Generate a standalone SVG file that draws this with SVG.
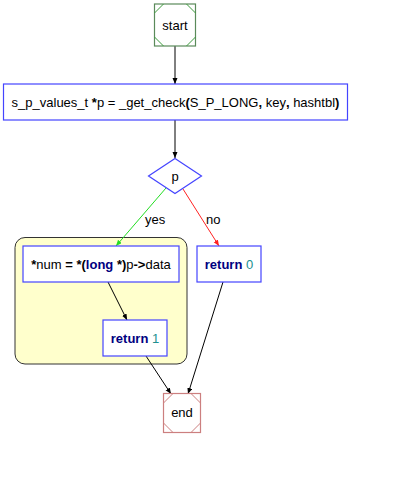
<svg xmlns="http://www.w3.org/2000/svg" width="404" height="488" viewBox="0 0 404 488">
<style>
text{font-family:"Liberation Sans",Arial,sans-serif;font-size:13px;fill:#000;}
.c{text-anchor:middle;}
.b{font-weight:bold;}
.kw{font-weight:bold;fill:#000080;}
.num{fill:#209090;}
.box{fill:#fff;stroke:#4444ff;stroke-width:1.2;}
.edge{fill:none;stroke:#000;stroke-width:1;}
</style>
<defs>
<marker id="ah" markerUnits="userSpaceOnUse" markerWidth="7" markerHeight="6" refX="6" refY="2.5" orient="auto"><path d="M0,0 L6,2.5 L0,5 z" fill="#000"/></marker>
<marker id="ahg" markerUnits="userSpaceOnUse" markerWidth="7" markerHeight="6" refX="6" refY="2.5" orient="auto"><path d="M0,0 L6,2.5 L0,5 z" fill="#22dd22"/></marker>
<marker id="ahr" markerUnits="userSpaceOnUse" markerWidth="7" markerHeight="6" refX="6" refY="2.5" orient="auto"><path d="M0,0 L6,2.5 L0,5 z" fill="#ff2222"/></marker>
</defs>
<rect width="404" height="488" fill="#fff"/>
<g id="cluster">
<rect x="15" y="237.5" width="172" height="126.5" rx="10" ry="10" fill="#ffffcc" stroke="#333" stroke-width="1"/>
</g>
<g id="connectors">
<line class="edge" x1="175" y1="46" x2="175" y2="84" marker-end="url(#ah)"/>
<line class="edge" x1="175" y1="120" x2="175" y2="158" marker-end="url(#ah)"/>
<line class="edge" x1="166" y1="188" x2="116" y2="246" stroke="#22dd22" style="stroke:#22dd22" marker-end="url(#ahg)"/>
<text x="145" y="224">yes</text>
<line class="edge" x1="183" y1="189" x2="219" y2="246" style="stroke:#ff2222" marker-end="url(#ahr)"/>
<text x="206" y="224">no</text>
<line class="edge" x1="108" y1="282" x2="127" y2="320" marker-end="url(#ah)"/>
<line class="edge" x1="146" y1="356" x2="171" y2="394" marker-end="url(#ah)"/>
<line class="edge" x1="223" y1="282" x2="188" y2="394" marker-end="url(#ah)"/>
</g>
<g id="start">
<rect x="154.5" y="4" width="41" height="42" fill="#fff" stroke="#5a8a5a" stroke-width="1.2"/>
<path d="M154.5,13 L163.5,4 M186.5,4 L195.5,13 M195.5,37 L186.5,46 M163.5,46 L154.5,37" stroke="#3c9a3c" stroke-width="1" fill="none"/>
<text class="c" x="175" y="29.5">start</text>
</g>
<g id="check">
<rect class="box" x="3.5" y="84" width="344" height="36"/>
<text class="c" x="175.5" y="106.5">s_p_values_t <tspan class="b">*</tspan>p = _get_check<tspan class="b">(</tspan>S_P_LONG<tspan class="b">,</tspan> key<tspan class="b">,</tspan> hashtbl<tspan class="b">)</tspan></text>
</g>
<g id="cond">
<path d="M175,158.5 L201.5,176 L175,193.5 L148.5,176 Z" fill="#fff" stroke="#4444ff" stroke-width="1.2"/>
<text class="c" x="175" y="180.5">p</text>
</g>
<g id="assign">
<rect class="box" x="23" y="246" width="156" height="36"/>
<text class="c" x="101" y="268.5"><tspan class="b">*</tspan>num <tspan class="b">=</tspan> <tspan class="b">*(</tspan><tspan class="kw">long</tspan> <tspan class="b">*)</tspan>p<tspan class="b">-&gt;</tspan>data</text>
</g>
<g id="ret0">
<rect class="box" x="197" y="246" width="64" height="36"/>
<text class="c" x="229" y="268.5"><tspan class="kw">return</tspan> <tspan class="num">0</tspan></text>
</g>
<g id="ret1">
<rect class="box" x="103" y="320" width="64" height="36"/>
<text class="c" x="135" y="342.5"><tspan class="kw">return</tspan> <tspan class="num">1</tspan></text>
</g>
<g id="end">
<rect x="163.5" y="393.5" width="37" height="39" fill="#fff" stroke="#cc7f7f" stroke-width="1.2"/>
<path d="M163.5,403 L173,393.5 M191,393.5 L200.5,403 M200.5,423 L191,432.5 M173,432.5 L163.5,423" stroke="#cc7f7f" stroke-width="1" fill="none"/>
<text class="c" x="182" y="417">end</text>
</g>
</svg>
